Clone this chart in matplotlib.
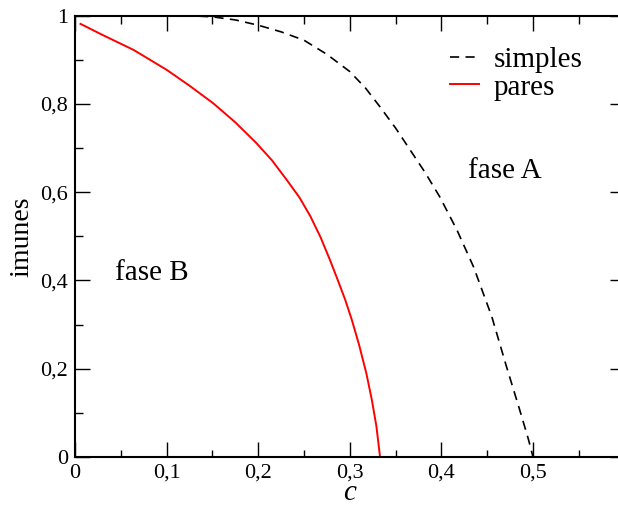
import matplotlib
matplotlib.use("Agg")
import matplotlib.pyplot as plt
from matplotlib.ticker import FuncFormatter, MultipleLocator

# curves
c_simples = [0.0, 0.05, 0.10, 0.13, 0.15, 0.175, 0.20, 0.225, 0.25, 0.275, 0.30, 0.317,
             0.333, 0.35, 0.366, 0.382, 0.398, 0.417, 0.435, 0.455, 0.471, 0.485, 0.495, 0.50]
imunes_simples = [1.0, 1.0, 1.0, 0.999, 0.997, 0.990, 0.978, 0.963, 0.944, 0.912, 0.873, 0.836,
                  0.793, 0.745, 0.695, 0.645, 0.590, 0.514, 0.431, 0.318, 0.205, 0.110, 0.040, 0.0]

c_pares = [0.006, 0.03, 0.064, 0.10, 0.125, 0.151, 0.175, 0.198, 0.215, 0.231, 0.245, 0.257,
           0.268, 0.278, 0.287, 0.295, 0.302, 0.310, 0.318, 0.324, 0.329, 0.333]
imunes_pares = [0.981, 0.956, 0.922, 0.877, 0.841, 0.801, 0.758, 0.711, 0.672, 0.628, 0.588, 0.545,
                0.498, 0.448, 0.400, 0.356, 0.312, 0.255, 0.190, 0.130, 0.070, 0.0]

x_ticks = [0, 0.1, 0.2, 0.3, 0.4, 0.5]
y_ticks = [0, 0.2, 0.4, 0.6, 0.8, 1.0]

plt.rcParams["font.family"] = ["Liberation Serif", "DejaVu Serif"]
plt.rcParams["mathtext.fontset"] = "custom"
plt.rcParams["mathtext.rm"] = "Liberation Serif"
plt.rcParams["mathtext.it"] = "Liberation Serif:italic"


def comma_fmt(v, pos=None):
    return f"{v:g}".replace(".", ",")


fig = plt.figure(figsize=(6.18, 5.05), dpi=100)
ax = fig.add_axes([0.1214, 0.0950, 0.8893, 0.8743])

ax.plot(c_simples, imunes_simples, color="black", lw=1.2, linestyle=(0, (5.5, 3.8)), label="simples")
ax.plot(c_pares, imunes_pares, color="red", lw=1.4, label="pares")

ax.set_xlim(0, 0.6)
ax.set_ylim(0, 1)
ax.set_xticks(x_ticks)
ax.set_yticks(y_ticks)
ax.xaxis.set_minor_locator(MultipleLocator(0.05))
ax.yaxis.set_minor_locator(MultipleLocator(0.1))
ax.xaxis.set_major_formatter(FuncFormatter(comma_fmt))
ax.yaxis.set_major_formatter(FuncFormatter(comma_fmt))
ax.tick_params(which="both", direction="in", top=True, right=True, labelsize=16, width=1)
ax.tick_params(which="major", length=10.8)
ax.tick_params(which="minor", length=5.4)
ax.tick_params(axis="x", pad=5)
ax.tick_params(axis="y", pad=5)
for s in ax.spines.values():
    s.set_linewidth(1.5)

xl = ax.set_xlabel("$c$", fontsize=21)
xl.set_verticalalignment("top")
ax.xaxis.set_label_coords(0.5, -0.0525)
ax.set_ylabel("imunes", fontsize=20, labelpad=4)

ax.text(0.0437, 0.401, "fase B", fontsize=21)
ax.text(0.429, 0.631, "fase A", fontsize=21)

ax.legend(loc="upper left", bbox_to_anchor=(0.682, 0.929), frameon=False, fontsize=21,
          handlelength=1.0, handletextpad=0.5, labelspacing=0.03, borderpad=0, borderaxespad=0)

plt.savefig("out.png", dpi=100)
